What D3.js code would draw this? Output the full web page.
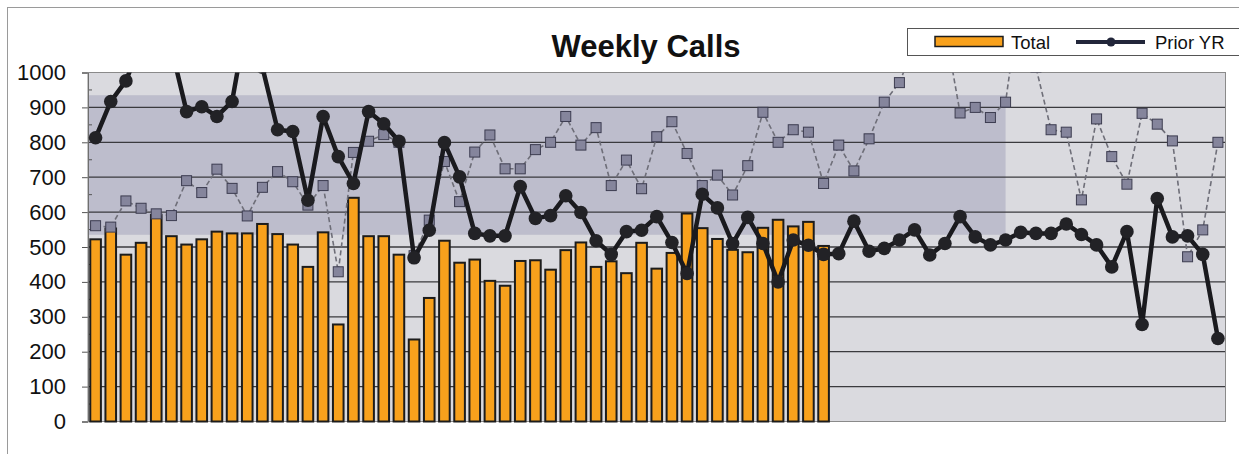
<!DOCTYPE html>
<html>
<head>
<meta charset="utf-8">
<script src="https://cdn.jsdelivr.net/npm/d3@7"></script>
<style>
    body { margin: 0; background: #ffffff; }
    svg { display: block; font-family: "Liberation Sans", Arial, sans-serif; }
</style>
</head>
<body>
<script>
// week numbers (no labels are printed on the x axis)
var weeks = [1, 2, 3, 4, 5, 6, 7, 8, 9, 10, 11, 12, 13, 14, 15, 16, 17, 18, 19, 20,
             21, 22, 23, 24, 25, 26, 27, 28, 29, 30, 31, 32, 33, 34, 35, 36, 37, 38, 39, 40,
             41, 42, 43, 44, 45, 46, 47, 48, 49, 50, 51, 52, 53, 54, 55, 56, 57, 58, 59, 60,
             61, 62, 63, 64, 65, 66, 67, 68, 69, 70, 71, 72, 73, 74, 75];

// this year, only 49 weeks so far
var total = [522, 553, 478, 512, 592, 531, 507, 522, 544, 539,
             539, 566, 537, 507, 443, 542, 278, 641, 531, 531,
             478, 235, 354, 518, 455, 464, 403, 389, 460, 462,
             435, 491, 513, 443, 459, 425, 512, 438, 483, 596,
             554, 523, 492, 485, 555, 578, 559, 572, 503];

var priorYr = [813, 917, 976, 1085, 1130, 1070, 888, 902, 874, 917,
               1160, 1015, 836, 831, 634, 874, 759, 682, 888, 853,
               803, 469, 548, 799, 701, 539, 532, 532, 673, 582,
               590, 647, 599, 518, 479, 544, 548, 587, 513, 424,
               651, 612, 510, 585, 510, 400, 520, 505, 479, 481,
               574, 488, 496, 520, 549, 477, 510, 587, 529, 506,
               520, 542, 539, 539, 566, 536, 506, 443, 544, 278,
               639, 529, 532, 479, 238];

// dashed grey series with square markers (not named in the visible legend)
var twoYrsPrior = [561, 557, 632, 611, 595, 590, 690, 656, 723, 668,
                   589, 671, 716, 687, 620, 676, 429, 771, 803, 822,
                   800, 475, 577, 745, 630, 772, 821, 724, 724, 779,
                   800, 874, 792, 842, 676, 749, 667, 816, 859, 768,
                   676, 706, 649, 733, 886, 800, 836, 829, 682, 792,
                   718, 810, 915, 971, 1080, 1100, 1130, 884, 900, 871,
                   915, 1230, 1015, 836, 829, 635, 867, 759, 680, 883,
                   852, 804, 472, 549, 800];

var yTicks = [0, 100, 200, 300, 400, 500, 600, 700, 800, 900, 1000];

// shaded band behind the data
var bandLastWeek = 61;
var bandLow = 535, bandHigh = 935;

var W = 1239, H = 454;
var plot = { left: 88, top: 72.5, right: 1225.5, bottom: 421.5 };

var svg = d3.select("body").append("svg")
    .attr("width", W)
    .attr("height", H);

// outer chart border
svg.append("rect")
    .attr("x", 7.5).attr("y", 7.5)
    .attr("width", 1245).attr("height", 460)
    .style("fill", "none")
    .style("stroke", "#9a9a9a");

var x = d3.scaleBand()
    .domain(weeks)
    .range([plot.left, plot.right])
    .paddingInner(0.3)
    .paddingOuter(0.15);

var y = d3.scaleLinear()
    .domain([0, 1000])
    .range([plot.bottom, plot.top]);

var cx = function (d, i) { return x(weeks[i]) + x.bandwidth() / 2; };

// plot area background
svg.append("rect")
    .attr("x", plot.left).attr("y", plot.top)
    .attr("width", plot.right - plot.left)
    .attr("height", plot.bottom - plot.top)
    .style("fill", "#dadadf");

svg.append("rect")
    .attr("x", plot.left)
    .attr("y", y(bandHigh))
    .attr("width", x(bandLastWeek) + x.bandwidth() / 2 - plot.left)
    .attr("height", y(bandLow) - y(bandHigh))
    .style("fill", "#bdbdcc");

// gridlines
svg.append("g")
    .selectAll("line")
    .data(yTicks.slice(1, -1))
    .join("line")
    .attr("x1", plot.left).attr("x2", plot.right)
    .attr("y1", function (d) { return y(d); })
    .attr("y2", function (d) { return y(d); })
    .style("stroke", "#3a3a3e")
    .style("stroke-width", 1.3);

// y axis
var yAxis = svg.append("g")
    .attr("transform", "translate(" + plot.left + ",0)")
    .call(d3.axisLeft(y).tickValues(yTicks).tickFormat(d3.format("d")).tickSize(6).tickPadding(16));
yAxis.select(".domain").style("stroke", "#555");
yAxis.selectAll(".tick line").style("stroke", "#555");
yAxis.selectAll("text")
    .style("font-size", "22px")
    .style("fill", "#111")
    .style("font-family", "'Liberation Sans', Arial, sans-serif");

// small inner ticks half way between
svg.append("g")
    .selectAll("line")
    .data([50, 150, 250, 350, 450, 550, 650, 750, 850, 950])
    .join("line")
    .attr("x1", plot.left).attr("x2", plot.left + 4)
    .attr("y1", function (d) { return y(d); })
    .attr("y2", function (d) { return y(d); })
    .style("stroke", "#555");

// plot border
svg.append("rect")
    .attr("x", plot.left).attr("y", plot.top)
    .attr("width", plot.right - plot.left)
    .attr("height", plot.bottom - plot.top)
    .style("fill", "none")
    .style("stroke", "#8a8a8a");

// bars
svg.append("g")
    .selectAll("rect")
    .data(total)
    .join("rect")
    .attr("x", function (d, i) { return x(weeks[i]); })
    .attr("y", function (d) { return y(d); })
    .attr("width", x.bandwidth())
    .attr("height", function (d) { return y(0) - y(d); })
    .style("fill", "#f8a11c")
    .style("stroke", "#1c1c1c")
    .style("stroke-width", 2);

svg.append("clipPath")
    .attr("id", "plot-clip")
    .append("rect")
    .attr("x", plot.left).attr("y", plot.top)
    .attr("width", plot.right - plot.left)
    .attr("height", plot.bottom - plot.top);

var lines = svg.append("g").attr("clip-path", "url(#plot-clip)");

// dashed series
lines.append("path")
    .datum(twoYrsPrior)
    .attr("d", d3.line().x(cx).y(function (d) { return y(d); }))
    .style("fill", "none")
    .style("stroke", "#6e6e78")
    .style("stroke-width", 1.6)
    .style("stroke-dasharray", "5,3");

lines.append("g")
    .selectAll("rect")
    .data(twoYrsPrior)
    .join("rect")
    .attr("x", function (d, i) { return cx(d, i) - 5; })
    .attr("y", function (d) { return y(d) - 5; })
    .attr("width", 10)
    .attr("height", 10)
    .style("fill", "#85859c")
    .style("stroke", "#3c3c50")
    .style("stroke-width", 1);

// prior year
lines.append("path")
    .datum(priorYr)
    .attr("d", d3.line().x(cx).y(function (d) { return y(d); }))
    .style("fill", "none")
    .style("stroke", "#1a1a1e")
    .style("stroke-width", 4.5)
    .style("stroke-linejoin", "round");

lines.append("g")
    .selectAll("circle")
    .data(priorYr)
    .join("circle")
    .attr("cx", cx)
    .attr("cy", function (d) { return y(d); })
    .attr("r", 6.8)
    .style("fill", "#222226");

// title
svg.append("text")
    .attr("x", 646)
    .attr("y", 57)
    .attr("text-anchor", "middle")
    .style("font-size", "31px")
    .style("font-weight", "bold")
    .style("fill", "#111")
    .text("Weekly Calls");

// legend
var legend = svg.append("g");
legend.append("rect")
    .attr("x", 907.5).attr("y", 28.5)
    .attr("width", 340).attr("height", 27)
    .style("fill", "#fff")
    .style("stroke", "#555");
legend.append("rect")
    .attr("x", 935).attr("y", 36.5)
    .attr("width", 68).attr("height", 10)
    .style("fill", "#f8a11c")
    .style("stroke", "#1c1c1c")
    .style("stroke-width", 1.5);
legend.append("text")
    .attr("x", 1011).attr("y", 48.5)
    .style("font-size", "18.5px")
    .style("fill", "#111")
    .text("Total");
legend.append("line")
    .attr("x1", 1076).attr("x2", 1145)
    .attr("y1", 42).attr("y2", 42)
    .style("stroke", "#22263a")
    .style("stroke-width", 4);
legend.append("circle")
    .attr("cx", 1111).attr("cy", 42)
    .attr("r", 4.5)
    .style("fill", "#22263a");
legend.append("text")
    .attr("x", 1155).attr("y", 48.5)
    .style("font-size", "18.5px")
    .style("fill", "#111")
    .text("Prior YR");
</script>
</body>
</html>
